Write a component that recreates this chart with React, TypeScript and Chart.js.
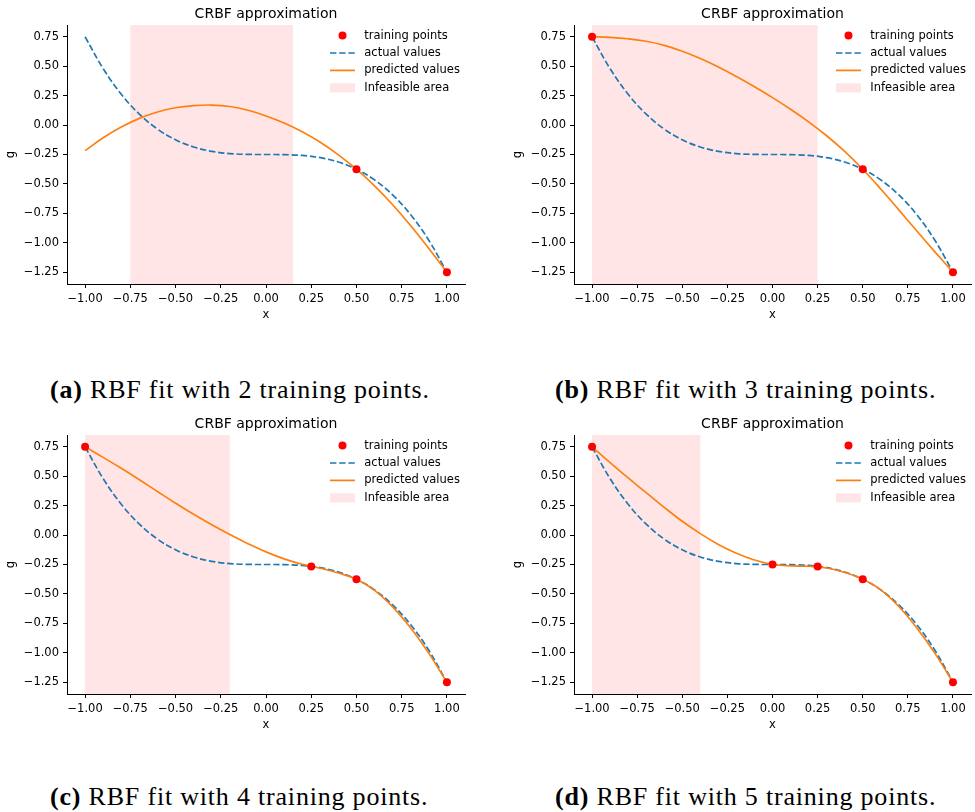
import React, { useEffect, useRef } from "react";
import { Chart, registerables } from "chart.js";

Chart.register(...registerables);

const FONT = '"DejaVu Sans"';

const X_VALUES = [-1.0, -0.9, -0.8, -0.7, -0.6, -0.5, -0.4, -0.3, -0.2, -0.1, 0.0, 0.1, 0.2, 0.3, 0.4, 0.5, 0.6, 0.7, 0.8, 0.9, 1.0];
const ACTUAL_VALUES = [0.75, 0.479, 0.262, 0.093, -0.034, -0.125, -0.186, -0.223, -0.242, -0.249, -0.25, -0.251, -0.258, -0.277, -0.314, -0.375, -0.466, -0.593, -0.762, -0.979, -1.25];

const PRED_A = [-0.217, -0.108, -0.017, 0.057, 0.111, 0.147, 0.165, 0.17, 0.158, 0.126, 0.077, 0.017, -0.057, -0.146, -0.253, -0.375, -0.517, -0.677, -0.855, -1.048, -1.25];
const PRED_B = [0.75, 0.745, 0.733, 0.712, 0.677, 0.627, 0.565, 0.493, 0.412, 0.325, 0.233, 0.134, 0.027, -0.091, -0.224, -0.375, -0.543, -0.72, -0.9, -1.077, -1.25];
const PRED_C = [0.75, 0.66, 0.567, 0.47, 0.37, 0.271, 0.176, 0.087, 0.004, -0.073, -0.143, -0.202, -0.248, -0.282, -0.322, -0.375, -0.47, -0.61, -0.79, -1.005, -1.25];
const PRED_D = [0.75, 0.615, 0.485, 0.36, 0.235, 0.117, 0.012, -0.08, -0.155, -0.212, -0.249, -0.262, -0.265, -0.28, -0.318, -0.375, -0.465, -0.607, -0.79, -1.005, -1.25];

const TRAIN_A_X = [0.5, 1.0];
const TRAIN_A_Y = [-0.375, -1.25];
const TRAIN_B_X = [-1.0, 0.5, 1.0];
const TRAIN_B_Y = [0.75, -0.375, -1.25];
const TRAIN_C_X = [-1.0, 0.25, 0.5, 1.0];
const TRAIN_C_Y = [0.75, -0.266, -0.375, -1.25];
const TRAIN_D_X = [-1.0, 0.0, 0.25, 0.5, 1.0];
const TRAIN_D_Y = [0.75, -0.25, -0.266, -0.375, -1.25];

const INFEASIBLE_A = [-0.75, 0.15];
const INFEASIBLE_B = [-1.0, 0.25];
const INFEASIBLE_C = [-1.0, -0.2];
const INFEASIBLE_D = [-1.0, -0.4];

const X_TICKS = [-1, -0.75, -0.5, -0.25, 0, 0.25, 0.5, 0.75, 1];
const X_TICK_LABELS = ["\u22121.00", "\u22120.75", "\u22120.50", "\u22120.25", "0.00", "0.25", "0.50", "0.75", "1.00"];
const Y_TICKS = [-1.25, -1.0, -0.75, -0.5, -0.25, 0, 0.25, 0.5, 0.75];
const Y_TICK_LABELS = ["\u22121.25", "\u22121.00", "\u22120.75", "\u22120.50", "\u22120.25", "0.00", "0.25", "0.50", "0.75"];

const TITLE = "CRBF approximation";
const X_LABEL = "x";
const Y_LABEL = "g";
const LEGEND_LABELS = ["training points", "actual values", "predicted values", "Infeasible area"];
const CAPTION_LETTERS = ["(a)", "(b)", "(c)", "(d)"];
const CAPTION_TEXTS = [
  "RBF fit with 2 training points.",
  "RBF fit with 3 training points.",
  "RBF fit with 4 training points.",
  "RBF fit with 5 training points.",
];

type PanelCfg = {
  pred: number[];
  tx: number[];
  ty: number[];
  span: number[];
  left: number;
  top: number;
  width: number;
  padLeft: number;
  padRight: number;
};

const PANELS: PanelCfg[] = [
  { pred: PRED_A, tx: TRAIN_A_X, ty: TRAIN_A_Y, span: INFEASIBLE_A, left: 0, top: 0, width: 487, padLeft: 0, padRight: 22 },
  { pred: PRED_B, tx: TRAIN_B_X, ty: TRAIN_B_Y, span: INFEASIBLE_B, left: 487, top: 0, width: 488, padLeft: 20, padRight: 2 },
  { pred: PRED_C, tx: TRAIN_C_X, ty: TRAIN_C_Y, span: INFEASIBLE_C, left: 0, top: 410, width: 487, padLeft: 0, padRight: 22 },
  { pred: PRED_D, tx: TRAIN_D_X, ty: TRAIN_D_Y, span: INFEASIBLE_D, left: 487, top: 410, width: 488, padLeft: 20, padRight: 2 },
];

const CAPTION_POS = [
  { left: 50, top: 375 },
  { left: 555, top: 375 },
  { left: 50, top: 782 },
  { left: 555, top: 782 },
];

const BLUE = "#1f77b4";
const ORANGE = "#ff7f0e";
const RED = "#ff0000";
const SPAN_FILL = "rgba(255,0,0,0.1)";
const DASH = [6.4, 2.8];

function Panel({ cfg }: { cfg: PanelCfg }) {
  const ref = useRef<HTMLCanvasElement | null>(null);
  useEffect(() => {
    const canvas = ref.current;
    if (!canvas) return;
    const pts = (xs: number[], ys: number[]) => xs.map((x, i) => ({ x, y: ys[i] }));
    const overlay = {
      id: "overlay",
      beforeDatasetsDraw(chart: any) {
        const { ctx, chartArea: a, scales } = chart;
        const x1 = scales.x.getPixelForValue(cfg.span[0]);
        const x2 = scales.x.getPixelForValue(cfg.span[1]);
        ctx.save();
        ctx.fillStyle = SPAN_FILL;
        ctx.fillRect(x1, a.top, x2 - x1, a.bottom - a.top);
        ctx.restore();
      },
      afterDraw(chart: any) {
        const { ctx, chartArea: a } = chart;
        ctx.save();
        ctx.fillStyle = "#000";
        ctx.textAlign = "center";
        ctx.textBaseline = "middle";
        ctx.font = `14px ${FONT}`;
        ctx.fillText(TITLE, (a.left + a.right) / 2, a.top - 11);
        ctx.font = `11.5px ${FONT}`;
        ctx.textAlign = "left";
        const rows = [10.6, 28, 45.4, 62.8];
        const hx0 = a.right - 135;
        const hx1 = a.right - 110;
        rows.forEach((r, i) => {
          const y = a.top + r;
          if (i === 0) {
            ctx.fillStyle = RED;
            ctx.beginPath();
            ctx.arc(a.right - 122.5, y, 4, 0, Math.PI * 2);
            ctx.fill();
          } else if (i === 1 || i === 2) {
            ctx.strokeStyle = i === 1 ? BLUE : ORANGE;
            ctx.lineWidth = 1.7;
            ctx.setLineDash(i === 1 ? DASH : []);
            ctx.beginPath();
            ctx.moveTo(hx0, y);
            ctx.lineTo(hx1, y);
            ctx.stroke();
            ctx.setLineDash([]);
          } else {
            ctx.fillStyle = SPAN_FILL;
            ctx.fillRect(hx0, y - 4.6, hx1 - hx0, 9.2);
          }
          ctx.fillStyle = "#000";
          ctx.fillText(LEGEND_LABELS[i], a.right - 100.7, y);
        });
        ctx.restore();
      },
    };
    const tickFont = { family: FONT, size: 11.5 };
    const chart = new Chart(canvas, {
      type: "scatter",
      data: {
        datasets: [
          {
            label: LEGEND_LABELS[0],
            data: pts(cfg.tx, cfg.ty),
            backgroundColor: RED,
            borderColor: RED,
            borderWidth: 0,
            pointRadius: 4,
            showLine: false,
            order: 0,
          },
          {
            label: LEGEND_LABELS[1],
            data: pts(X_VALUES, ACTUAL_VALUES),
            showLine: true,
            borderColor: BLUE,
            borderWidth: 1.7,
            borderDash: DASH,
            pointRadius: 0,
            tension: 0.4,
            order: 2,
          },
          {
            label: LEGEND_LABELS[2],
            data: pts(X_VALUES, cfg.pred),
            showLine: true,
            borderColor: ORANGE,
            borderWidth: 1.7,
            pointRadius: 0,
            tension: 0.4,
            order: 1,
          },
        ] as any,
      },
      options: {
        responsive: false,
        animation: false,
        events: [],
        layout: { padding: { left: cfg.padLeft, right: cfg.padRight, top: 25, bottom: 0 } },
        plugins: { legend: { display: false }, tooltip: { enabled: false }, title: { display: false } },
        scales: {
          x: {
            type: "linear",
            position: "bottom",
            min: -1.1,
            max: 1.1,
            afterBuildTicks: (s: any) => {
              s.ticks = X_TICKS.map((v) => ({ value: v }));
            },
            afterFit: (s: any) => {
              s.height = 46;
            },
            ticks: {
              callback: (_v: any, i: number) => X_TICK_LABELS[i],
              font: tickFont,
              color: "#000",
              padding: 4,
              maxRotation: 0,
              autoSkip: false,
            },
            grid: { display: true, drawOnChartArea: false, drawTicks: true, tickLength: 4, color: "#000", lineWidth: 1 },
            border: { display: true, color: "#000", width: 1 },
            title: { display: true, text: X_LABEL, font: tickFont, color: "#000", padding: { top: 0, bottom: 8 } },
          },
          y: {
            type: "linear",
            position: "left",
            min: -1.35,
            max: 0.85,
            afterBuildTicks: (s: any) => {
              s.ticks = Y_TICKS.map((v) => ({ value: v }));
            },
            afterFit: (s: any) => {
              s.width = 67;
            },
            ticks: {
              callback: (_v: any, i: number) => Y_TICK_LABELS[i],
              font: tickFont,
              color: "#000",
              padding: 4,
              autoSkip: false,
            },
            grid: { display: true, drawOnChartArea: false, drawTicks: true, tickLength: 4, color: "#000", lineWidth: 1 },
            border: { display: true, color: "#000", width: 1 },
            title: { display: true, text: Y_LABEL, font: tickFont, color: "#000", padding: { top: 4, bottom: 0 } },
          },
        },
      } as any,
      plugins: [overlay],
    });
    return () => chart.destroy();
  }, [cfg]);
  return (
    <canvas
      ref={ref}
      width={cfg.width}
      height={330}
      style={{ position: "absolute", left: cfg.left, top: cfg.top, width: cfg.width, height: 330 }}
    />
  );
}

export default function App() {
  return (
    <div style={{ position: "fixed", left: 0, top: 0, width: 975, height: 812, background: "#fff", overflow: "hidden" }}>
      {PANELS.map((p, i) => (
        <Panel key={i} cfg={p} />
      ))}
      {CAPTION_TEXTS.map((t, i) => (
        <div
          key={"c" + i}
          style={{
            position: "absolute",
            left: CAPTION_POS[i].left,
            top: CAPTION_POS[i].top,
            fontFamily: '"Liberation Serif", serif',
            fontSize: 26,
            lineHeight: "30px",
            letterSpacing: "0.8px",
            whiteSpace: "nowrap",
            color: "#000",
          }}
        >
          <b>{CAPTION_LETTERS[i]}</b> {t}
        </div>
      ))}
    </div>
  );
}
